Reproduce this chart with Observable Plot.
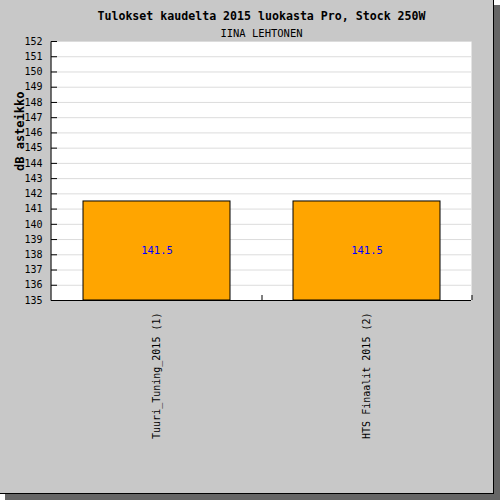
<!DOCTYPE html>
<html>
<head>
<meta charset="utf-8">
<script src="https://cdn.jsdelivr.net/npm/d3@7"></script>
<script src="https://cdn.jsdelivr.net/npm/@observablehq/plot@0.6"></script>
<style>
  html, body { margin: 0; padding: 0; background: white; }
  #wrap { position: relative; width: 500px; height: 500px; }
  #shadow { position: absolute; left: 5px; top: 5px; width: 495px; height: 495px; background: #666666; }
  #main { position: absolute; left: 0; top: 0; width: 493px; height: 493px; background: #c8c8c8;
          border-right: 1px solid black; border-bottom: 1px solid black; }
  #chart { position: absolute; left: 0; top: 0; }
</style>
</head>
<body>
<div id="wrap">
  <div id="shadow"></div>
  <div id="main"></div>
  <div id="chart"></div>
</div>
<script>
const title = "Tulokset kaudelta 2015 luokasta Pro, Stock 250W";
const subtitle = "IINA LEHTONEN";
const yLabel = "dB asteikko";
const categories = ["Tuuri_Tuning_2015 (1)", "HTS Finaalit 2015 (2)"];
const values = [141.5, 141.5];
const yMin = 135;
const yMax = 152;
const yTicks = d3.range(135, 153, 1);

const data = categories.map((c, i) => ({category: c, value: values[i]}));

const W = 500, H = 500;
const mL = 51, mR = 29, mT = 41, mB = 200;
const xOpts = {type: "band", domain: categories, paddingInner: 0.3, paddingOuter: 0.15, range: [mL, W - mR]};
const step = Plot.scale({x: xOpts}).step;
const frameW = W - mL - mR;
const frameH = H - mT - mB;
const mono = "DejaVu Sans Mono";

const chart = Plot.plot({
  width: W,
  height: H,
  marginLeft: mL,
  marginRight: mR,
  marginTop: mT,
  marginBottom: mB,
  style: {background: "transparent", fontFamily: mono, fontSize: "10px"},
  x: {domain: categories, paddingInner: 0.3, paddingOuter: 0.15, axis: null, label: null},
  y: {domain: [yMin, yMax], axis: null, label: null},
  marks: [
    Plot.frame({fill: "white", stroke: null}),
    Plot.ruleY(yTicks.filter(t => t !== yMin), {stroke: "#dcdcdc", strokeWidth: 1}),
    Plot.barY(data, {x: "category", y1: () => yMin, y2: "value", fill: "#ffa500", stroke: "black", strokeWidth: 1}),
    Plot.text(data, {x: "category", y: d => (yMin + d.value) / 2, text: d => d.value.toFixed(1), fill: "blue", fontFamily: mono, fontSize: 10.5}),
    Plot.frame({fill: "black", stroke: null, insetLeft: -1, insetRight: frameW}),
    Plot.ruleY([yMin], {stroke: "black", strokeWidth: 1}),
    Plot.ruleY(yTicks, {stroke: "black", insetRight: frameW - 6}),
    Plot.ruleX(categories, {x: d => d, dx: step / 2, stroke: "black", insetTop: frameH - 5}),
    Plot.axisY({ticks: yTicks, tickSize: 0, tickPadding: 9, fontFamily: mono, fontSize: 10, tickFormat: d => String(d), label: null}),
    Plot.axisX({tickSize: 0, tickPadding: 12, tickRotate: -90, fontFamily: mono, fontSize: 10, label: null}),
    Plot.text([title], {frameAnchor: "top", dy: -30, fontFamily: mono, fontWeight: "bold", fontSize: 11.6, fill: "black"}),
    Plot.text([subtitle], {frameAnchor: "top", dy: -12, fontFamily: mono, fontSize: 10.5, fill: "black"}),
    Plot.text([yLabel], {frameAnchor: "left", dx: -31, rotate: -90, fontFamily: mono, fontWeight: "bold", fontSize: 12, fill: "black"})
  ]
});
document.getElementById("chart").appendChild(chart);
</script>
</body>
</html>
